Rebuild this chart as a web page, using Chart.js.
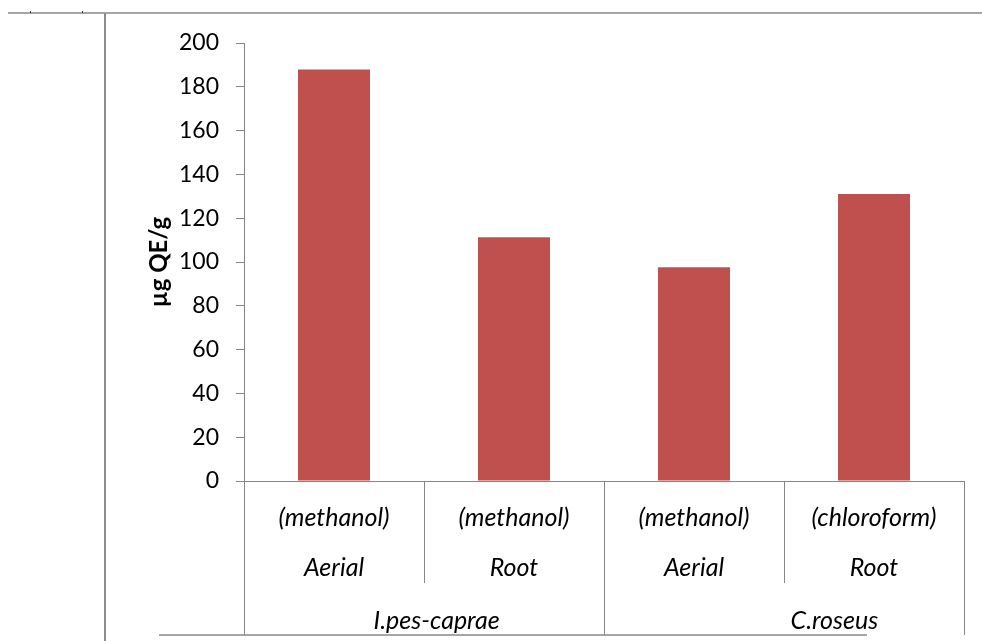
<!DOCTYPE html>
<html>
<head>
<meta charset="utf-8">
<script src="https://cdn.jsdelivr.net/npm/chart.js@4.4.1/dist/chart.umd.min.js"></script>
<style>
html,body{margin:0;padding:0;background:#fff;}
#wrap{width:982px;height:641px;position:relative;}
</style>
</head>
<body>
<div id="wrap"><canvas id="c" width="982" height="641"></canvas></div>
<script>
const solvents = ['(methanol)', '(methanol)', '(methanol)', '(chloroform)'];
const parts = ['Aerial', 'Root', 'Aerial', 'Root'];
const groups = ['I.pes-caprae', 'C.roseus'];
const groupSpans = [[0, 1], [2, 3]];
const groupLabelAt = [0.57, 2.78];
const values = [187.9, 111.3, 97.6, 131.0];
const yTicks = [0, 20, 40, 60, 80, 100, 120, 140, 160, 180, 200];
const yTitle = 'µg QE/g';

const FONT = 'Lato, "Open Sans", sans-serif';
const GRID = '#868686';

const decor = {
  id: 'decor',
  afterDraw(chart) {
    const ctx = chart.ctx;
    const xs = chart.scales.x;
    const area = chart.chartArea;
    ctx.save();
    // frame lines
    ctx.lineWidth = 2;
    ctx.strokeStyle = '#a6a6a6';
    ctx.beginPath(); ctx.moveTo(8, 13); ctx.lineTo(982, 13); ctx.stroke();
    ctx.strokeStyle = '#8c8c8c';
    ctx.beginPath(); ctx.moveTo(105, 13); ctx.lineTo(105, 641); ctx.stroke();
    ctx.strokeStyle = '#a6a6a6';
    ctx.beginPath(); ctx.moveTo(159, 635); ctx.lineTo(867, 635); ctx.stroke();
    ctx.fillStyle = '#333';
    ctx.fillRect(30, 11, 1, 2);
    ctx.fillRect(82, 11, 1, 2);

    // category separators
    const n = solvents.length;
    const half = (xs.getPixelForValue(1) - xs.getPixelForValue(0)) / 2;
    const y0 = area.bottom;
    ctx.lineWidth = 1;
    ctx.strokeStyle = GRID;
    for (let i = 0; i <= n; i++) {
      const x = Math.round((i < n ? xs.getPixelForValue(i) - half : xs.getPixelForValue(n - 1) + half)) + 0.5;
      const isGroupEdge = groupSpans.some(s => s[0] === i || s[1] + 1 === i);
      ctx.beginPath();
      ctx.moveTo(x, y0);
      ctx.lineTo(x, isGroupEdge ? 635 : 583);
      ctx.stroke();
    }

    // labels
    ctx.fillStyle = '#000';
    ctx.font = 'italic 25px ' + FONT;
    ctx.textAlign = 'center';
    ctx.textBaseline = 'middle';
    for (let i = 0; i < n; i++) {
      const x = xs.getPixelForValue(i);
      ctx.fillText(solvents[i], x, 518);
      ctx.fillText(parts[i], x, 568);
    }
    groups.forEach((g, k) => {
      ctx.fillText(g, xs.getPixelForValue(groupLabelAt[k]), 621);
    });
    ctx.restore();
  }
};

new Chart(document.getElementById('c'), {
  type: 'bar',
  data: {
    labels: solvents.map((s, i) => s + ' ' + parts[i]),
    datasets: [{
      data: values,
      backgroundColor: '#C0504D',
      borderWidth: 0,
      categoryPercentage: 0.4,
      barPercentage: 1.0
    }]
  },
  options: {
    responsive: false,
    animation: false,
    devicePixelRatio: 1,
    layout: { padding: { left: 140, right: 18, top: 43, bottom: 0 } },
    plugins: { legend: { display: false }, tooltip: { enabled: false }, title: { display: false } },
    scales: {
      x: {
        ticks: { display: false },
        grid: { display: false, drawTicks: false },
        border: { display: true, color: GRID, width: 1 },
        afterFit(s) { s.height = 160; }
      },
      y: {
        min: 0, max: 200,
        afterBuildTicks(s) { s.ticks = yTicks.map(v => ({ value: v })); },
        ticks: { color: '#000', font: { family: FONT, size: 23 }, padding: 17 },
        grid: { drawOnChartArea: false, drawTicks: true, tickLength: 8, color: GRID },
        border: { display: true, color: GRID, width: 1 },
        title: { display: true, text: yTitle, color: '#000', font: { family: FONT, size: 24, weight: 'bold' }, padding: { top: 5, bottom: 0 } },
        afterFit(s) { s.width = 104; }
      }
    }
  },
  plugins: [decor]
});
</script>
</body>
</html>
